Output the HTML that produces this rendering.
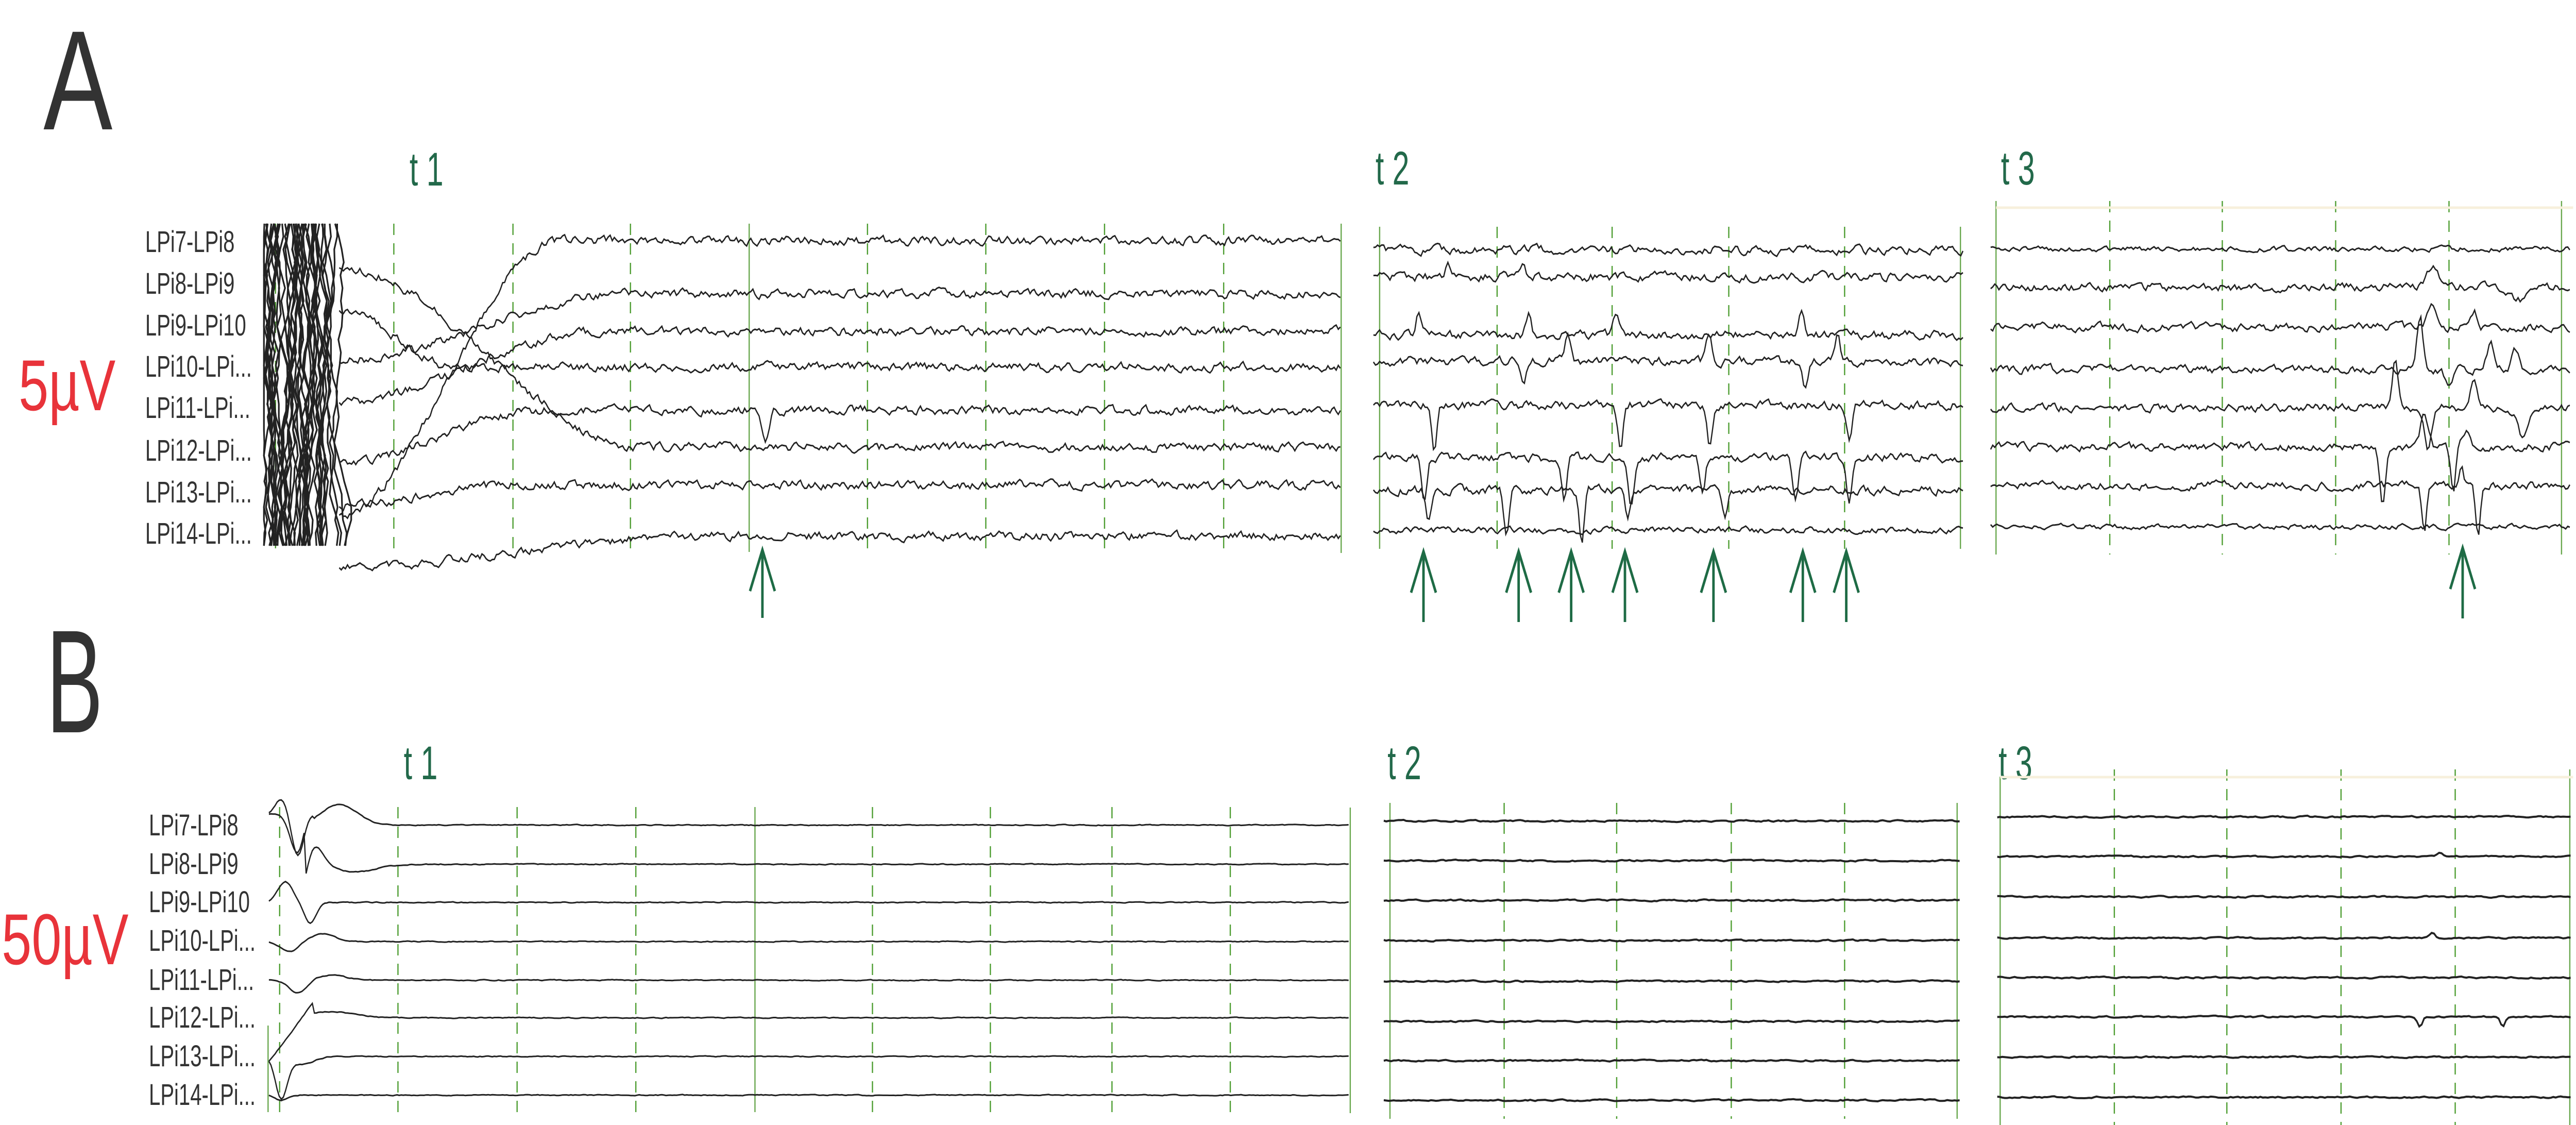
<!DOCTYPE html>
<html><head><meta charset="utf-8">
<meta name="viewport" content="width=6227, initial-scale=1">
<style>
html,body{margin:0;padding:0;background:#fff;width:100%;height:100%;overflow:hidden;}
svg{position:absolute;left:0;top:0;display:block;width:100vw;height:100vh;}
</style></head>
<body>
<svg id="s" viewBox="0 0 6227 2183" preserveAspectRatio="none" xmlns="http://www.w3.org/2000/svg">
<g font-family="Liberation Sans, DejaVu Sans, sans-serif">
<text x="105" y="251" font-size="275" fill="#333" transform="translate(105 251) scale(0.91 1) translate(-105 -251)">A</text>
<text x="112" y="1421" font-size="285" fill="#333" transform="translate(112 1421) scale(0.72 1) translate(-112 -1421)">B</text>
<g fill="#e8333a" font-size="140">
<text x="45" y="796" transform="translate(45 796) scale(0.93 1) translate(-45 -796)">5µV</text>
<text x="4" y="1871" transform="translate(4 1871) scale(0.93 1) translate(-4 -1871)">50µV</text>
</g>
<g fill="#22694a" font-size="92">
<text x="990" y="360" transform="translate(990 360) scale(0.8 1) translate(-990 -360)">t 1</text>
<text x="3325" y="358" transform="translate(3325 358) scale(0.8 1) translate(-3325 -358)">t 2</text>
<text x="4837" y="358" transform="translate(4837 358) scale(0.8 1) translate(-4837 -358)">t 3</text>
<text x="976" y="1512" transform="translate(976 1512) scale(0.8 1) translate(-976 -1512)">t 1</text>
<text x="3354" y="1512" transform="translate(3354 1512) scale(0.8 1) translate(-3354 -1512)">t 2</text>
<text x="4831" y="1512" transform="translate(4831 1512) scale(0.8 1) translate(-4831 -1512)">t 3</text>
</g>
<g fill="#333" font-size="58" id="labels"></g>
</g>
<g id="grid"></g>
<g id="traces" fill="none" stroke="#222" stroke-width="3"></g>
<g id="arrows" stroke="#1e6b45" stroke-width="6" fill="none"></g>
</svg>
<script>
(function(){
var NS="http://www.w3.org/2000/svg";
function el(p,t,a){var e=document.createElementNS(NS,t);for(var k in a)e.setAttribute(k,a[k]);p.appendChild(e);return e;}
var seed=12345;function R(){seed=(seed*16807)%2147483647;return (seed-1)/2147483646;}
var names=["LPi7-LPi8","LPi8-LPi9","LPi9-LPi10","LPi10-LPi...","LPi11-LPi...","LPi12-LPi...","LPi13-LPi...","LPi14-LPi..."];
var lab=document.getElementById("labels");
var ya=[468,549,630,710,790,873,954,1034], yb=[1600,1675,1749,1824,1900,1973,2048,2123];
for(var i=0;i<8;i++){
 var t=el(lab,"text",{x:351,y:ya[i]+21,transform:"translate(351 0) scale(0.86 1) translate(-351 0)"});t.textContent=names[i];
 var t2=el(lab,"text",{x:360,y:yb[i]+21,transform:"translate(360 0) scale(0.86 1) translate(-360 0)"});t2.textContent=names[i];
}
var g=document.getElementById("grid");
function V(x,y1,y2,dash){el(g,"line",{x1:x,x2:x,y1:y1,y2:y2,stroke:dash?"#4f9e33":"#6aa84f","stroke-width":3,"stroke-dasharray":dash?"22 16":"none"});}
[952,1240,1524,2097,2383,2670,2958].forEach(function(x){V(x,434,1071,1)});V(666,434,1071,1);V(1811,434,1071,0);V(3242,434,1073,0);
[3619,3897,4179,4459].forEach(function(x){V(x,440,1065,1)});V(3335,440,1065,0);V(4739,440,1065,0);
[5100,5372,5646,5920].forEach(function(x){V(x,390,1076,1)});V(4825,390,1076,0);V(6192,390,1076,0);
el(g,"line",{x1:4825,x2:6220,y1:403,y2:403,stroke:"#f7f0dc","stroke-width":5});
[676,962,1250,1537,2109,2394,2688,2974].forEach(function(x){V(x,1566,2158,1)});V(1825,1566,2158,0);V(3264,1567,2160,0);V(648,1990,2158,0);
[3636,3908,4185,4459].forEach(function(x){V(x,1558,2171,1)});V(3360,1558,2171,0);V(4731,1558,2171,0);
[5111,5383,5659,5935].forEach(function(x){V(x,1493,2183,1)});V(4835,1507,2183,0);V(6212,1493,2183,0);
el(g,"line",{x1:4835,x2:6220,y1:1508,y2:1508,stroke:"#f7f0dc","stroke-width":5});

var tr=document.getElementById("traces");
function trace(x0,x1,yf,amp,spikes,step,sw){
 var pts=[],v=0;step=step||5;
 for(var x=x0;x<=x1;x+=step){
  v=0.55*v+(R()-0.5)*amp;
  var y=(typeof yf=="function"?yf(x):yf)+v;
  if(spikes)for(var k=0;k<spikes.length;k++){var s=spikes[k],d=(x-s[0])/s[2];y+=s[1]*Math.exp(-d*d);}
  pts.push(x.toFixed(0)+","+y.toFixed(1));
 }
 el(tr,"polyline",{points:pts.join(" "),"stroke-width":sw||3});
}
for(var i=0;i<45;i++){
 var pts=[],x=640+R()*170;
 for(var y=434;y<=1071;y+=25){x+=(R()-0.5)*20; x=Math.max(638,Math.min(860,x)); pts.push(x.toFixed(0)+","+y);}
 el(tr,"polyline",{points:pts.join(" "),"stroke-width":4});
}
var At=[467,570,643,712,796,868,941,1040];
var Ast=[1000,700,780,600,900,520,980,1100];
var Aend=[1350,1500,1450,1100,1300,1550,1250,1700];
At.forEach(function(tg,i){
 var st=Ast[i],e=Aend[i];
 trace(820,3240,function(x){if(x>=e)return tg;var f=(x-820)/(e-820);f=f*f*(3-2*f);return st+(tg-st)*f;},14,i==4?[[1850,60,12]]:null,5);
});
var A2=[485,537,650,701,786,888,951,1029];
var arr2=[3441,3671,3798,3928,4142,4358,4463];
A2.forEach(function(tg,i){
 var sp=[];
 if(i>=2&&i<=6){arr2.forEach(function(ax,j){if(R()<0.3)return;sp.push([ax+(R()-0.5)*60,(i==3?(j%2?50:-45):(i==2?-40:50+R()*50)),9]);});}
 if(i==1)sp.push([3500,-25,10],[3680,-25,10]);
 trace(3320,4745,tg,i==7?10:14,sp,5);
});
var A3=[483,557,635,717,791,867,942,1022];
var sp3={2:[[5880,-40,15],[5980,-30,12]],3:[[5850,-100,10],[5920,40,12],[6020,-50,12],[6080,-40,12]],4:[[5790,-90,10],[5870,80,12],[5980,-60,12],[6100,60,20]],5:[[5760,110,10],[5860,-70,12],[5960,-30,12],[5930,90,8]],6:[[5860,90,8],[5950,-30,8],[5990,100,8]],1:[[5880,-40,20],[6090,25,30]]};
A3.forEach(function(tg,i){trace(4812,6215,tg,i==0||i==7?8:13,sp3[i]||null,5);});
trace(650,3260,function(x){return x<760?1580:1601+(x<1000?(-40*Math.exp(-Math.pow((x-820)/60,2))):0);},1.5,[[680,-30,20],[720,80,20]],5);
trace(650,3260,function(x){return x<740?1580:1677;},1.5,[[720,80,25],[760,-40,30],[860,15,70]],5);
trace(650,3260,1751,1.5,[[690,-40,25],[750,40,20]],5);
trace(650,3260,1827,1.5,[[700,20,30],[780,-15,40]],5);
trace(650,3260,1902,1.5,[[720,25,30],[800,-10,50]],5);
trace(650,3260,function(x){return x<760?2060-(x-650)*1.0:1975;},1.5,[[800,-12,80]],5);
trace(650,3260,2050,1.5,[[680,80,20],[730,15,40]],5);
trace(650,3260,2125,1.5,[[680,10,20]],5);
[1593,1670,1747,1825,1904,1982,2058,2135].forEach(function(tg){trace(3345,4740,tg,2.5,null,6,4);});
var sb3={1:[[5900,-6,10]],5:[[5850,20,8],[6050,20,8]],3:[[5880,-10,8]]};
[1585,1662,1740,1820,1897,1973,2051,2129].forEach(function(tg,i){trace(4828,6215,tg,2.5,sb3[i]||null,6,4);});
var ag=document.getElementById("arrows");
function arrow(x,tip,bot){el(ag,"line",{x1:x,x2:x,y1:tip+4,y2:bot});el(ag,"polyline",{points:(x-30)+","+(tip+80)+" "+x+","+tip+" "+(x+30)+","+(tip+80)});}
arrow(1843,1067,1199);
arr2.forEach(function(x){arrow(x,1070,1207);});
arrow(5953,1063,1200);
})();
</script>
</body></html>
